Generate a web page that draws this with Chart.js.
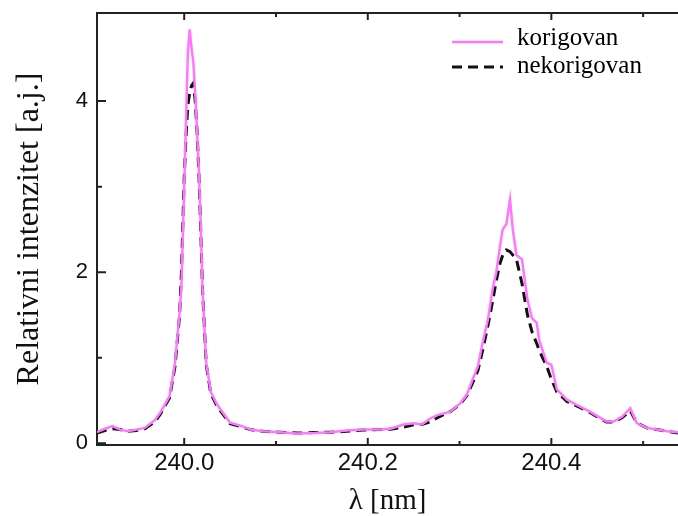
<!DOCTYPE html>
<html>
<head>
<meta charset="utf-8">
<script src="https://cdn.jsdelivr.net/npm/chart.js"></script>
<style>
  html, body { margin: 0; padding: 0; background: #fff; }
  #wrap { width: 678px; height: 516px; }
</style>
</head>
<body>
<div id="wrap"><canvas id="spektar" width="678" height="516"></canvas></div>
<script>
// --- Podaci ---
const wavelengths = [
    239.905, 239.9135, 239.922, 239.930, 239.939, 239.948, 239.957, 239.968, 239.974, 239.984,
    239.990, 239.995, 239.997, 240.000, 240.002, 240.004, 240.006, 240.008, 240.010, 240.012,
    240.014, 240.016, 240.018, 240.020, 240.024, 240.029, 240.036, 240.050, 240.063, 240.072,
    240.086, 240.104, 240.123, 240.142, 240.159, 240.177, 240.195, 240.214, 240.225, 240.239,
    240.250, 240.259, 240.268, 240.276, 240.290, 240.301, 240.308, 240.314, 240.320, 240.325,
    240.331, 240.336, 240.340, 240.344, 240.347, 240.351, 240.355, 240.358, 240.362, 240.368,
    240.374, 240.379, 240.384, 240.387, 240.395, 240.400, 240.406, 240.417, 240.431, 240.442,
    240.453, 240.460, 240.468, 240.477, 240.486, 240.493, 240.504, 240.515, 240.526, 240.538
];
const korigovan = [
    0.13, 0.17, 0.20, 0.16, 0.14, 0.16, 0.18, 0.27, 0.36, 0.55,
    0.94, 1.53, 1.85, 3.00, 3.78, 4.57, 4.84, 4.62, 4.45, 4.10,
    3.65, 3.20, 2.55, 1.79, 0.94, 0.60, 0.45, 0.24, 0.20, 0.16,
    0.14, 0.13, 0.115, 0.12, 0.13, 0.15, 0.16, 0.16, 0.17, 0.22,
    0.235, 0.22, 0.29, 0.33, 0.37, 0.47, 0.57, 0.74, 0.90, 1.17,
    1.45, 1.80, 2.00, 2.30, 2.50, 2.56, 2.85, 2.50, 2.20, 2.15,
    1.68, 1.46, 1.41, 1.20, 0.94, 0.92, 0.63, 0.51, 0.43, 0.37,
    0.30, 0.255, 0.255, 0.31, 0.41, 0.235, 0.18, 0.16, 0.14, 0.13
];
const nekorigovan = [
    0.12, 0.15, 0.17, 0.16, 0.14, 0.15, 0.17, 0.25, 0.34, 0.53,
    0.90, 1.50, 2.00, 3.10, 3.60, 3.95, 4.10, 4.18, 4.21, 4.00,
    3.65, 3.15, 2.50, 1.79, 0.92, 0.58, 0.43, 0.23, 0.19, 0.16,
    0.14, 0.13, 0.12, 0.125, 0.13, 0.14, 0.155, 0.16, 0.165, 0.19,
    0.215, 0.22, 0.25, 0.30, 0.37, 0.46, 0.56, 0.70, 0.85, 1.08,
    1.38, 1.66, 1.90, 2.10, 2.20, 2.26, 2.24, 2.20, 2.15, 1.87,
    1.50, 1.30, 1.17, 1.08, 0.90, 0.75, 0.60, 0.49, 0.42, 0.36,
    0.29, 0.25, 0.25, 0.30, 0.38, 0.24, 0.18, 0.16, 0.14, 0.12
];
const xTicks = [240.0, 240.1, 240.2, 240.3, 240.4, 240.5];
const xTickLabels = ["240.0", "", "240.2", "", "240.4", ""];
const yTicks = [0, 1, 2, 3, 4];
const yTickLabels = ["0", "", "2", "", "4"];

const toPoints = arr => arr.map((v, i) => ({ x: wavelengths[i], y: v }));

// --- Unutrasnje crtice, gornja linija i legenda ---
const okvirPlugin = {
    id: 'okvir',
    afterDraw(chart) {
        const c = chart.ctx, a = chart.chartArea;
        const xs = chart.scales.x, ys = chart.scales.y;
        c.save();
        c.strokeStyle = '#222';
        c.lineWidth = 2;
        c.beginPath();
        c.moveTo(a.left, a.top);
        c.lineTo(a.right, a.top);
        xTicks.forEach((v, i) => {
            const px = xs.getPixelForValue(v);
            const len = xTickLabels[i] ? 7 : 4;
            c.moveTo(px, a.bottom); c.lineTo(px, a.bottom - len);
            c.moveTo(px, a.top); c.lineTo(px, a.top + len);
        });
        yTicks.forEach((v, i) => {
            const py = ys.getPixelForValue(v);
            const len = yTickLabels[i] ? 9 : 5;
            c.moveTo(a.left, py); c.lineTo(a.left + len, py);
        });
        c.stroke();

        // legenda
        c.font = '25px "Liberation Serif", "DejaVu Serif", serif';
        c.textBaseline = 'middle';
        c.fillStyle = '#000';
        chart.data.datasets.forEach((ds, i) => {
            const y = 42 + i * 25;
            c.beginPath();
            c.strokeStyle = ds.borderColor;
            c.lineWidth = ds.borderWidth;
            c.setLineDash(ds.borderDash || []);
            c.moveTo(452, y);
            c.lineTo(503, y);
            c.stroke();
            c.setLineDash([]);
            c.fillText(ds.label, 517, i === 0 ? 38 : 66);
        });
        c.restore();
    }
};

const ctx = document.getElementById('spektar').getContext('2d');
new Chart(ctx, {
    type: 'line',
    data: {
        datasets: [
            { label: 'korigovan', data: toPoints(korigovan), borderColor: '#ff77ff', borderWidth: 2.5, pointRadius: 0, tension: 0, fill: false },
            { label: 'nekorigovan', data: toPoints(nekorigovan), borderColor: '#111', borderWidth: 3, borderDash: [10, 6], pointRadius: 0, tension: 0, fill: false }
        ]
    },
    options: {
        responsive: false,
        animation: false,
        layout: { padding: { top: 13, right: 0, left: 0, bottom: 0 } },
        plugins: { legend: { display: false }, tooltip: { enabled: false } },
        scales: {
            x: {
                type: 'linear',
                min: 239.905,
                max: 240.538,
                afterFit: s => { s.height = 71; s.paddingLeft = 0; s.paddingRight = 0; },
                afterBuildTicks: s => { s.ticks = xTicks.map(v => ({ value: v })); },
                grid: { display: true, drawOnChartArea: false, drawTicks: false },
                border: { display: true, color: '#222', width: 2 },
                ticks: {
                    padding: 4,
                    color: '#111',
                    maxRotation: 0,
                    autoSkip: false,
                    font: { family: '"Liberation Sans", Arial, sans-serif', size: 24 },
                    callback: (v, i) => xTickLabels[i]
                },
                title: {
                    display: true,
                    text: 'λ [nm]',
                    color: '#111',
                    font: { family: '"Liberation Serif", "DejaVu Serif", serif', size: 29 },
                    padding: { top: 0, bottom: -3 }
                }
            },
            y: {
                type: 'linear',
                min: -0.02,
                max: 5.03,
                afterFit: s => { s.width = 97; s.paddingTop = 0; s.paddingBottom = 0; },
                afterBuildTicks: s => { s.ticks = yTicks.map(v => ({ value: v })); },
                grid: { display: true, drawOnChartArea: false, drawTicks: false },
                border: { display: true, color: '#222', width: 2 },
                ticks: {
                    padding: 9,
                    color: '#111',
                    autoSkip: false,
                    font: { family: '"Liberation Sans", Arial, sans-serif', size: 22 },
                    callback: (v, i) => yTickLabels[i]
                },
                title: {
                    display: true,
                    text: 'Relativni intenzitet [a.j.]',
                    color: '#111',
                    font: { family: '"Liberation Serif", "DejaVu Serif", serif', size: 32 },
                    padding: { top: 10, bottom: 0 }
                }
            }
        }
    },
    plugins: [okvirPlugin]
});
</script>
</body>
</html>
